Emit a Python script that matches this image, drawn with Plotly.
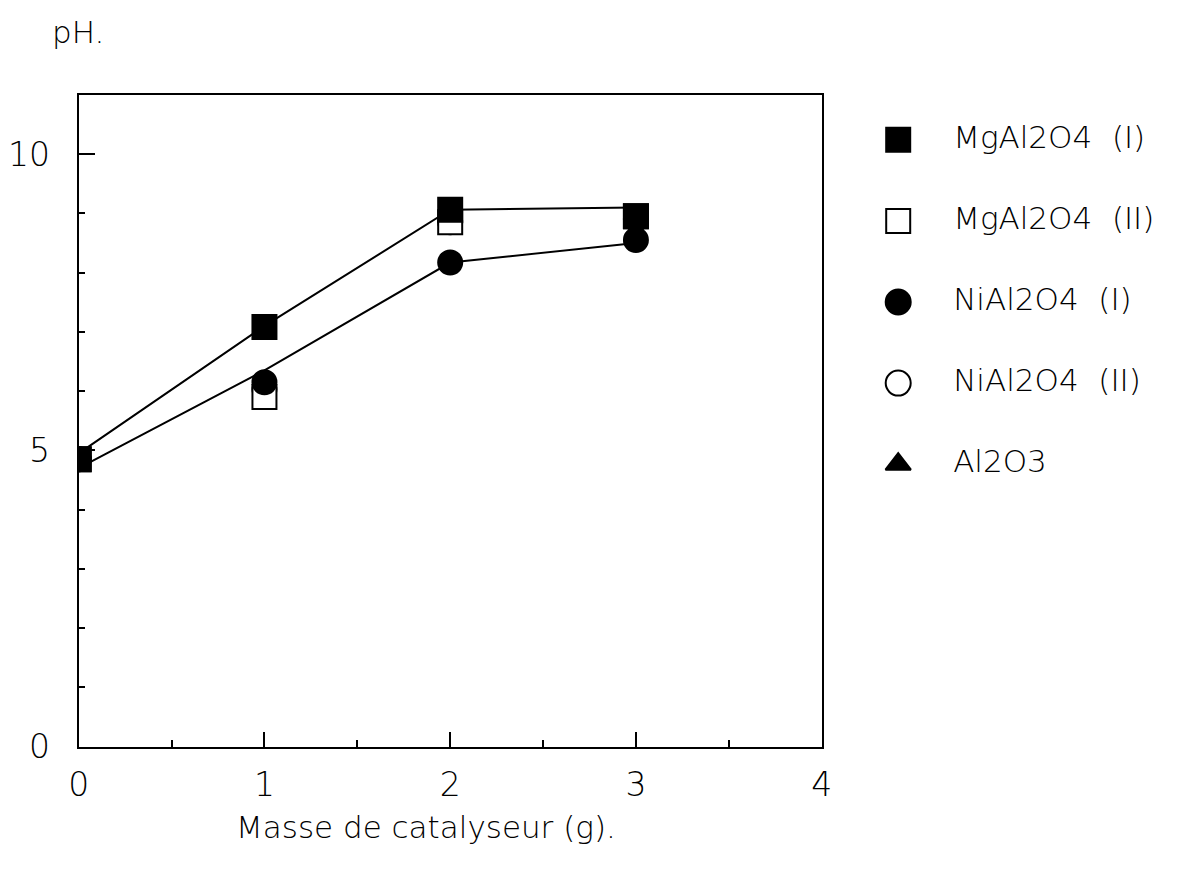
import plotly.graph_objects as go

# ---- data ----
mass = [0, 1, 2, 3]
mgal_I = [4.85, 7.08, 9.06, 8.95]
mgal_II = [4.85, 5.9, 8.85, 8.95]
nial_I = [4.85, 6.15, 8.17, 8.55]
nial_II = [4.85, 6.03, 8.85, 8.9]
al2o3_x = [0]
al2o3 = [4.85]
curve_upper = [4.95, 7.1, 9.06, 9.1]
curve_lower = [4.7, 6.35, 8.17, 8.5]

legend_names = ["MgAl2O4  (I)", "MgAl2O4  (II)", "NiAl2O4  (I)", "NiAl2O4  (II)", "Al2O3"]
legend_symbols = ["square", "square-open", "circle", "circle-open", "triangle-up"]

W, H = 1184, 882
FAM = "DejaVu Sans"
FONT = dict(family=FAM, size=33, color="black", weight=200)
TFONT = dict(family=FAM, size=31, color="black", weight=200)

fig = go.Figure()

# fitted curves
for yv in (curve_upper, curve_lower):
    fig.add_trace(go.Scatter(x=mass, y=yv, mode="lines",
                             line=dict(color="black", width=2), showlegend=False))

def mk(x, y, symbol, size, fill):
    return go.Scatter(x=x, y=y, mode="markers", showlegend=False,
                      marker=dict(symbol=symbol, size=size, color=fill,
                                  line=dict(color="black", width=2)))

fig.add_trace(mk(al2o3_x, al2o3, "triangle-up", 18, "black"))
fig.add_trace(mk(mass, nial_II, "circle", 24, "white"))
fig.add_trace(mk(mass, mgal_II, "square", 24, "white"))
fig.add_trace(mk(mass, nial_I, "circle", 24, "black"))
fig.add_trace(mk(mass, mgal_I, "square", 24, "black"))

# custom legend on an overlay pixel-coordinate axis
leg_y = [143, 226, 309, 392, 475]
leg_mx = 904
leg_tx = 960
for name, sym, yy in zip(legend_names, legend_symbols, leg_y):
    base = sym.replace("-open", "")
    fill = "white" if sym.endswith("-open") else "black"
    size = 22 if base == "triangle-up" else (24 if base == "square" else 25)
    fig.add_trace(go.Scatter(x=[leg_mx], y=[yy], xaxis="x2", yaxis="y2", mode="markers",
                             showlegend=False,
                             marker=dict(symbol=base, size=size, color=fill,
                                         line=dict(color="black", width=2))))
    fig.add_trace(go.Scatter(x=[leg_tx], y=[yy], xaxis="x2", yaxis="y2", mode="text",
                             text=[name], textposition="middle right", showlegend=False,
                             textfont=TFONT))

x0, x1 = 69, 826
y0, y1 = 97, 764

fig.update_layout(
    width=W, height=H,
    margin=dict(l=0, r=0, t=0, b=0),
    paper_bgcolor="white", plot_bgcolor="rgba(0,0,0,0)",
    font=FONT,
    xaxis=dict(domain=[x0 / W, x1 / W], range=[0, 4], dtick=1, tick0=0,
               showgrid=False, zeroline=False, showline=True, mirror=True,
               linecolor="black", linewidth=2,
               ticks="inside", ticklen=15, tickwidth=1.5, tickcolor="black",
               minor=dict(dtick=0.5, ticks="inside", ticklen=7, tickwidth=1.5, tickcolor="black"),
               ticklabelstandoff=8, tickfont=FONT),
    yaxis=dict(domain=[1 - y1 / H, 1 - y0 / H], range=[0, 11], dtick=5, tick0=0,
               showgrid=False, zeroline=False, showline=True, mirror=True,
               linecolor="black", linewidth=2,
               ticks="inside", ticklen=16, tickwidth=1.5, tickcolor="black",
               minor=dict(dtick=1, ticks="inside", ticklen=6, tickwidth=1.5, tickcolor="black"),
               ticklabelstandoff=20, tickfont=FONT),
    xaxis2=dict(domain=[0, 1], range=[0, W], visible=False, anchor="y2"),
    yaxis2=dict(domain=[0, 1], range=[H, 0], visible=False, anchor="x2"),
    annotations=[
        dict(text="pH.", xref="paper", yref="paper", x=40 / W, y=1 - 33 / H,
             xanchor="left", yanchor="middle", showarrow=False, font=TFONT),
        dict(text="Masse de catalyseur (g).", xref="paper", yref="paper", x=423 / W, y=1 - 846 / H,
             xanchor="center", yanchor="middle", showarrow=False, font=TFONT),
    ],
)

fig.write_html("out.html")
